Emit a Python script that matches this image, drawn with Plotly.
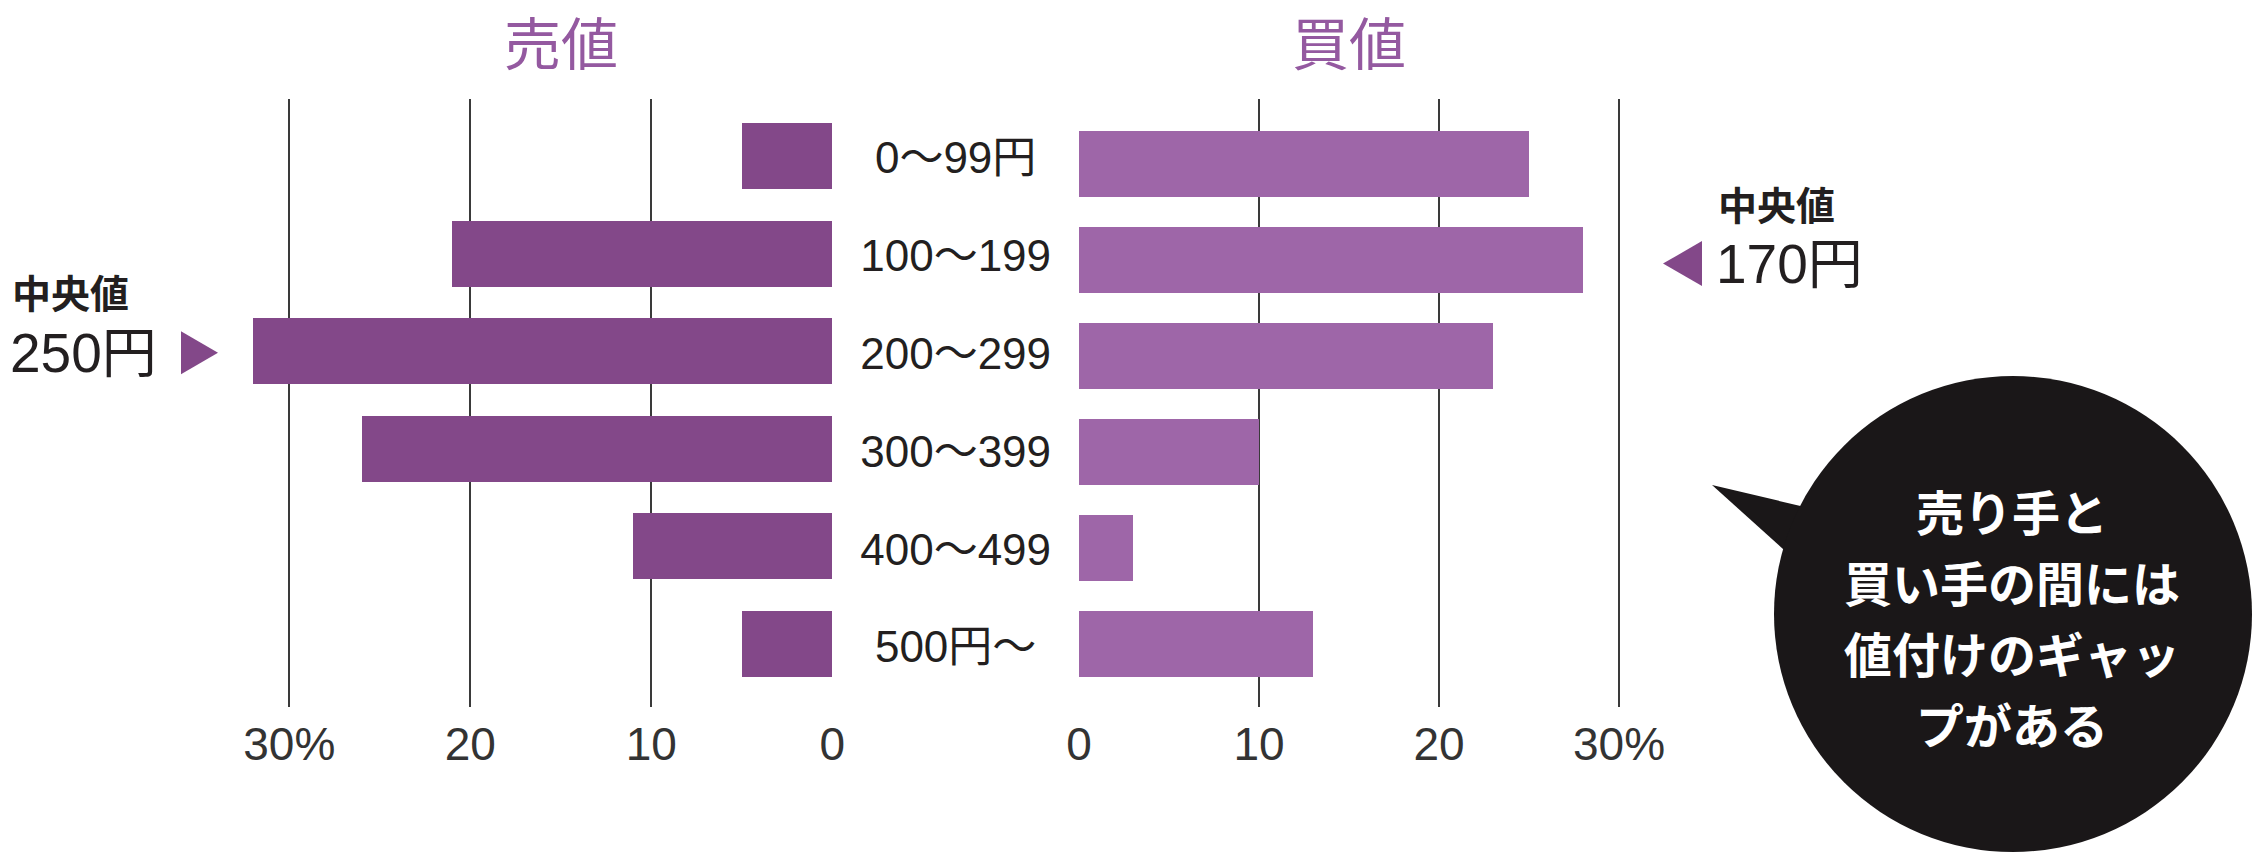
import plotly.graph_objects as go

# ---- data ----
categories = ["0～99円", "100～199", "200～299", "300～399", "400～499", "500円～"]
sell_pct = [5, 21, 32, 26, 11, 5]      # 売値の分布 (%)
buy_pct = [25, 28, 23, 10, 3, 13]      # 買値の分布 (%)
sell_median = 250
buy_median = 170
x_ticks = [0, 10, 20, 30]
x_ticktext = ["0", "10", "20", "30%"]
panel_titles = ["売値", "買値"]
bubble_lines = ["売り手と", "買い手の間には", "値付けのギャッ", "プがある"]

# ---- layout constants (pixels) ----
W, H = 2264, 856
PLOT_TOP, PLOT_BOT = 98.7, 706.7
LEFT_ZERO, LEFT_PX_PER_PCT = 832.3, 18.1
RIGHT_ZERO, RIGHT_PX_PER_PCT = 1079.0, 18.0
RIGHT_EDGE = 1720.0

SELL_COLOR = "#834889"
BUY_COLOR = "#9e66a8"
TITLE_COLOR = "#9459a0"
TEXT_COLOR = "#231f20"
LATIN = "Liberation Sans, Arial, Noto Sans CJK JP, sans-serif"
CJK = "Noto Sans CJK JP, sans-serif"


def px(x):
    return x / W


def py(y):
    return 1 - y / H


ydom = [py(PLOT_BOT), py(PLOT_TOP)]

# category ranges for the two panels and for the centre labels
y_left_range = [5.651, -0.585]
y_right_range = [5.662, -0.678]
y_mid_range = [5.566, -0.650]


def cat_to_py(v, rng):
    frac = (v - rng[0]) / (rng[1] - rng[0])
    return PLOT_BOT - frac * (PLOT_BOT - PLOT_TOP)


fig = go.Figure()

fig.add_trace(go.Bar(
    x=sell_pct, y=list(range(len(categories))), orientation="h",
    xaxis="x", yaxis="y", width=0.677,
    marker=dict(color=SELL_COLOR, line=dict(width=0)),
    hoverinfo="skip",
))
fig.add_trace(go.Bar(
    x=buy_pct, y=list(range(len(categories))), orientation="h",
    xaxis="x2", yaxis="y2", width=0.688,
    marker=dict(color=BUY_COLOR, line=dict(width=0)),
    hoverinfo="skip",
))
fig.add_trace(go.Scatter(
    x=[0.5] * len(categories), y=list(range(len(categories))),
    text=categories, mode="text", textposition="middle center",
    textfont=dict(family=LATIN, size=44, color=TEXT_COLOR),
    xaxis="x3", yaxis="y3", cliponaxis=False, hoverinfo="skip",
))

axis_common = dict(
    tickvals=x_ticks, ticktext=x_ticktext, showgrid=True,
    gridcolor="#3a3a3a", gridwidth=2, zeroline=False, showline=False,
    ticks="", tickfont=dict(family=LATIN, size=46, color="#333333"),
    ticklabelstandoff=6, fixedrange=True, automargin=False,
)

fig.update_layout(
    width=W, height=H,
    margin=dict(l=0, r=0, t=0, b=0, pad=0, autoexpand=False),
    paper_bgcolor="white", plot_bgcolor="rgba(0,0,0,0)",
    showlegend=False, bargap=0,
    xaxis=dict(domain=[0, px(LEFT_ZERO)], range=[LEFT_ZERO / LEFT_PX_PER_PCT, 0],
               anchor="y", **axis_common),
    xaxis2=dict(domain=[px(RIGHT_ZERO), px(RIGHT_EDGE)],
                range=[0, (RIGHT_EDGE - RIGHT_ZERO) / RIGHT_PX_PER_PCT],
                anchor="y2", **axis_common),
    xaxis3=dict(domain=[px(LEFT_ZERO), px(RIGHT_ZERO)], range=[0, 1],
                visible=False, anchor="y3", automargin=False),
    yaxis=dict(domain=ydom, range=y_left_range, visible=False, anchor="x",
               automargin=False),
    yaxis2=dict(domain=ydom, range=y_right_range, visible=False, anchor="x2",
                automargin=False),
    yaxis3=dict(domain=ydom, range=y_mid_range, visible=False, anchor="x3",
                automargin=False),
)

# panel headings
for title, xref in zip(panel_titles, ["x", "x2"]):
    fig.add_annotation(
        x=15, xref=xref, y=py(40), yref="paper", text=title, showarrow=False,
        xanchor="center", yanchor="middle",
        font=dict(family=CJK, size=57, color=TITLE_COLOR),
    )

# median markers: bin index of the median in each panel
sell_bin = sell_median // 100
buy_bin = buy_median // 100
sell_y = cat_to_py(sell_bin, y_left_range) + 2
buy_y = cat_to_py(buy_bin, y_right_range) + 4

fig.add_annotation(x=px(10), y=py(sell_y - 62), xref="paper", yref="paper",
                   text="中央値", showarrow=False, xanchor="left", yanchor="middle",
                   font=dict(family=CJK, size=39, color=TEXT_COLOR, weight=600))
fig.add_annotation(x=px(8), y=py(sell_y), xref="paper", yref="paper",
                   text=f"{sell_median}円", showarrow=False, xanchor="left",
                   yanchor="middle", font=dict(family=LATIN, size=55, color=TEXT_COLOR))
fig.add_shape(type="path", xref="paper", yref="paper",
              path=(f"M {px(181)},{py(sell_y - 21.5)} L {px(181)},{py(sell_y + 21.5)} "
                    f"L {px(218)},{py(sell_y)} Z"),
              fillcolor=SELL_COLOR, line=dict(width=0))

fig.add_annotation(x=px(1716), y=py(buy_y - 61), xref="paper", yref="paper",
                   text="中央値", showarrow=False, xanchor="left", yanchor="middle",
                   font=dict(family=CJK, size=39, color=TEXT_COLOR, weight=600))
fig.add_annotation(x=px(1714), y=py(buy_y), xref="paper", yref="paper",
                   text=f"{buy_median}円", showarrow=False, xanchor="left",
                   yanchor="middle", font=dict(family=LATIN, size=55, color=TEXT_COLOR))
fig.add_shape(type="path", xref="paper", yref="paper",
              path=(f"M {px(1702)},{py(buy_y - 22.5)} L {px(1702)},{py(buy_y + 22.5)} "
                    f"L {px(1663)},{py(buy_y)} Z"),
              fillcolor=SELL_COLOR, line=dict(width=0))

# speech bubble
BUB_CX, BUB_CY, BUB_RX, BUB_RY = 2013, 614, 239, 238
BUB_FILL = "#1a1718"
fig.add_shape(type="path", xref="paper", yref="paper",
              path=(f"M {px(1712)},{py(485)} L {px(1826)},{py(512)} "
                    f"L {px(1803)},{py(567)} Z"),
              fillcolor=BUB_FILL, line=dict(width=0))
fig.add_shape(type="circle", xref="paper", yref="paper",
              x0=px(BUB_CX - BUB_RX), x1=px(BUB_CX + BUB_RX),
              y0=py(BUB_CY + BUB_RY), y1=py(BUB_CY - BUB_RY),
              fillcolor=BUB_FILL, line=dict(width=0))
for i, line in enumerate(bubble_lines):
    fig.add_annotation(x=px(2012), y=py(510 + 71 * i), xref="paper", yref="paper",
                       text=line, showarrow=False, xanchor="center", yanchor="middle",
                       font=dict(family=CJK, size=48, color="white", weight=600))

fig.write_html("out.html")
